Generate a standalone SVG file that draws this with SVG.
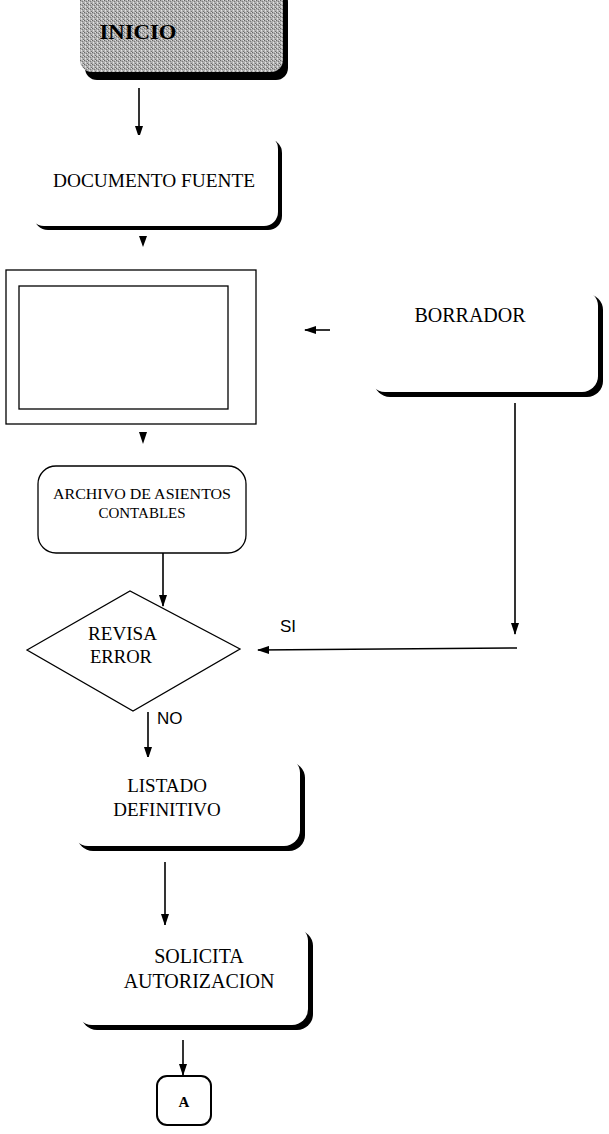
<svg xmlns="http://www.w3.org/2000/svg" width="609" height="1134" viewBox="0 0 609 1134">
<style>
.t{font-family:"Liberation Serif","Times New Roman",serif;fill:#000;text-anchor:middle}
.tl{font-family:"Liberation Serif","Times New Roman",serif;fill:#000;text-anchor:start}
.s{font-family:"Liberation Sans",Arial,sans-serif;fill:#000}
.ln{stroke:#000;stroke-width:1.6;fill:none}
.box{fill:#fff;stroke:none}
.shd{fill:#000}
</style>
<defs>
<marker id="ah" viewBox="0 0 12 8" refX="11" refY="4" markerWidth="12" markerHeight="8" markerUnits="userSpaceOnUse" orient="auto">
<path d="M0,0 L12,4 L0,8 z" fill="#000"/>
</marker>
<pattern id="grain" width="4" height="4" patternUnits="userSpaceOnUse">
<rect width="4" height="4" fill="#b0b0b0"/>
<rect x="0" y="0" width="1" height="1" fill="#666"/>
<rect x="2" y="1" width="1" height="1" fill="#7a7a7a"/>
<rect x="1" y="2" width="1" height="1" fill="#e4e4e4"/>
<rect x="3" y="3" width="1" height="1" fill="#707070"/>
<rect x="3" y="0" width="1" height="1" fill="#dcdcdc"/>
<rect x="1" y="3" width="1" height="1" fill="#d0d0d0"/>
</pattern>
</defs>
<rect width="609" height="1134" fill="#fff"/>

<g id="connectors">
<line class="ln" x1="139" y1="88" x2="139" y2="137" marker-end="url(#ah)"/>
<path d="M139,236 L147,236 L143,247 z" fill="#000"/>
<path d="M139,432 L147,432 L143,444 z" fill="#000"/>
<line class="ln" x1="330" y1="330" x2="305" y2="330" marker-end="url(#ah)"/>
<line class="ln" x1="163" y1="553" x2="163" y2="606" marker-end="url(#ah)"/>
<line class="ln" x1="515" y1="403" x2="515" y2="634" marker-end="url(#ah)"/>
<line class="ln" x1="517" y1="648" x2="258" y2="650" marker-end="url(#ah)"/>
<line class="ln" x1="148" y1="712" x2="148" y2="758" marker-end="url(#ah)"/>
<line class="ln" x1="165" y1="862" x2="165" y2="925" marker-end="url(#ah)"/>
<line class="ln" x1="183" y1="1040" x2="183" y2="1075" marker-end="url(#ah)"/>
<text class="s" x="280" y="632" font-size="17">SI</text>
<text class="s" x="157" y="724" font-size="17">NO</text>
</g>

<g id="inicio">
<rect class="shd" x="85" y="-10" width="203" height="90" rx="12"/>
<rect x="80" y="-14" width="203" height="86" rx="12" fill="url(#grain)"/>
<text class="t" x="138" y="39" font-size="21" font-weight="bold" textLength="77" lengthAdjust="spacingAndGlyphs">INICIO</text>
</g>

<g id="documento-fuente">
<rect class="shd" x="34" y="139" width="248" height="91" rx="14"/>
<rect class="box" x="30" y="135" width="248" height="91" rx="14"/>
<text class="t" x="154" y="187" font-size="18" textLength="202" lengthAdjust="spacingAndGlyphs">DOCUMENTO FUENTE</text>
</g>

<g id="registro">
<rect x="6" y="270" width="250" height="154" fill="#fff" stroke="#000" stroke-width="1.3"/>
<rect x="19" y="286" width="209" height="123" fill="#fff" stroke="#000" stroke-width="1.3"/>
</g>

<g id="borrador">
<rect class="shd" x="374" y="294" width="229" height="103" rx="16"/>
<rect class="box" x="369" y="290" width="229" height="102" rx="16"/>
<text class="t" x="470" y="322" font-size="20">BORRADOR</text>
</g>

<g id="archivo">
<rect x="38" y="466" width="208" height="87" rx="18" fill="#fff" stroke="#000" stroke-width="1.3"/>
<text class="t" x="142" y="499" font-size="15" textLength="178" lengthAdjust="spacingAndGlyphs">ARCHIVO DE ASIENTOS</text>
<text class="t" x="142" y="518" font-size="15">CONTABLES</text>
</g>

<g id="revisa-error">
<polygon points="27,650 130,591 240,649 133,711" fill="#fff" stroke="#000" stroke-width="1.3"/>
<text class="tl" x="88" y="640" font-size="19" textLength="69" lengthAdjust="spacingAndGlyphs">REVISA</text>
<text class="tl" x="90" y="663" font-size="19" textLength="62" lengthAdjust="spacingAndGlyphs">ERROR</text>
</g>

<g id="listado">
<rect class="shd" x="77" y="762" width="228" height="89" rx="16"/>
<rect class="box" x="72" y="757" width="228" height="89" rx="16"/>
<text class="t" x="167" y="792" font-size="19">LISTADO</text>
<text class="t" x="167" y="816" font-size="19">DEFINITIVO</text>
</g>

<g id="solicita">
<rect class="shd" x="81" y="930" width="232" height="100" rx="16"/>
<rect class="box" x="76" y="925" width="232" height="100" rx="16"/>
<text class="t" x="199" y="963" font-size="20">SOLICITA</text>
<text class="t" x="199" y="988" font-size="20">AUTORIZACION</text>
</g>

<g id="conector-a">
<rect x="157" y="1076" width="54" height="49" rx="10" fill="#fff" stroke="#000" stroke-width="2"/>
<text class="t" x="184" y="1107" font-size="15" font-weight="bold">A</text>
</g>
</svg>
